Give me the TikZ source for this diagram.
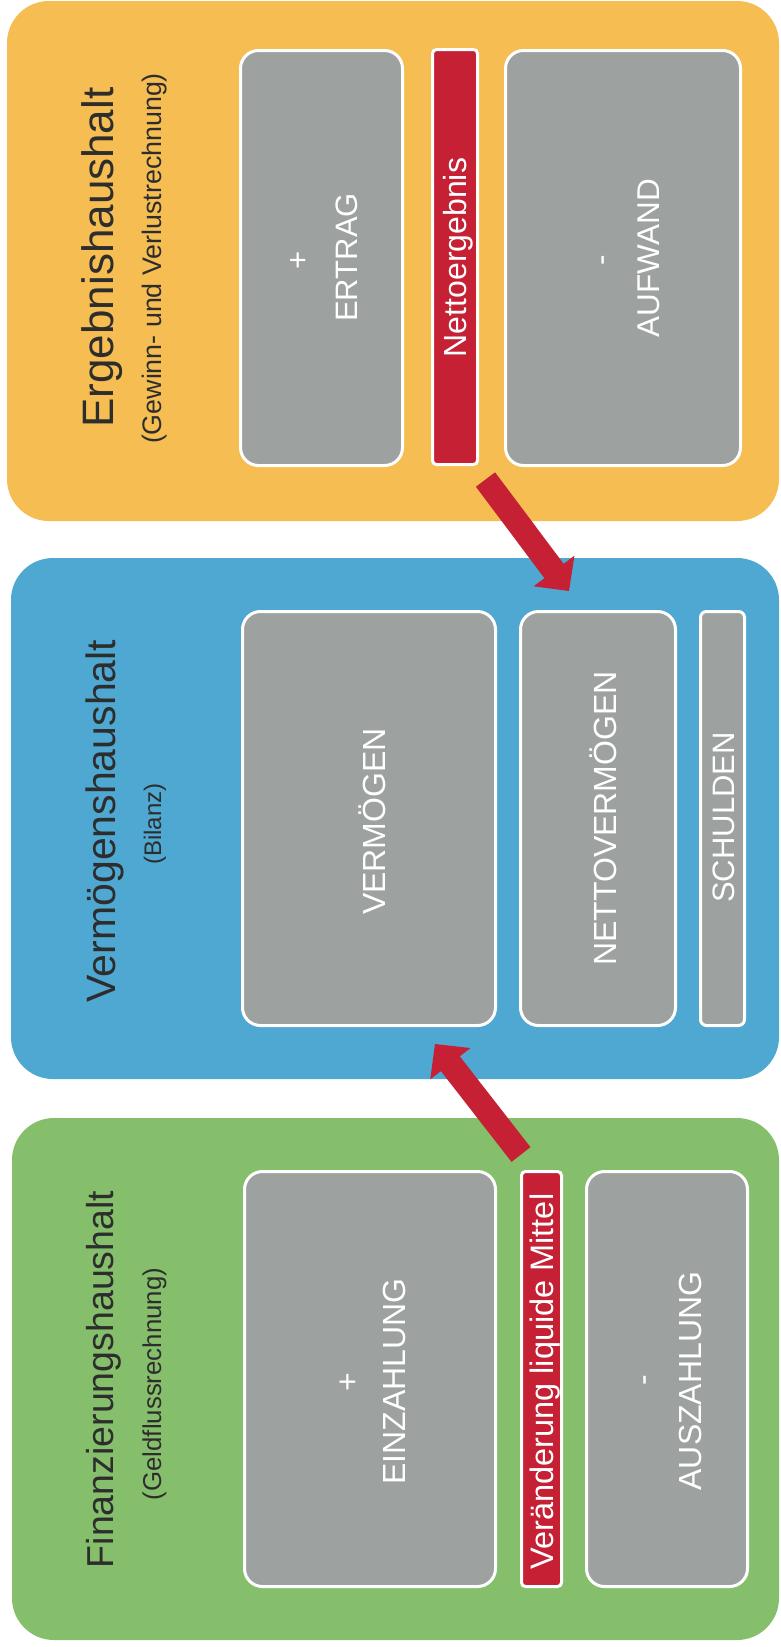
\documentclass[tikz,border=0pt]{standalone}
\usepackage{fontspec}
\setmainfont{Liberation Sans}
\usetikzlibrary{calc}
\definecolor{panelorange}{RGB}{246,189,82}
\definecolor{panelblue}{RGB}{78,168,210}
\definecolor{panelgreen}{RGB}{134,191,108}
\definecolor{boxgray}{RGB}{157,161,159}
\definecolor{barred}{RGB}{197,32,52}
\definecolor{titlegray}{RGB}{45,45,45}
\newcommand\fsz[1]{\fontsize{#1pt}{#1pt}\selectfont}
\newcommand\redblockarrow[3]{%
  \coordinate (#3hb) at ($(#2)!25pt!(#1)$);
  \fill[barred] ($(#1)!12pt!90:(#2)$) -- ($(#3hb)!12pt!90:(#2)$) -- ($(#3hb)!25.5pt!90:(#2)$) -- (#2)
     -- ($(#3hb)!25.5pt!-90:(#2)$) -- ($(#3hb)!12pt!-90:(#2)$) -- ($(#1)!12pt!-90:(#2)$) -- cycle;}
\begin{document}
\begin{tikzpicture}[x=1pt,y=-1pt,
  panel/.style={rectangle, rounded corners=42pt, inner sep=0pt, draw=none},
  graybox/.style={rectangle, rounded corners=18pt, fill=boxgray, draw=white, line width=3pt, inner sep=0pt},
  redbar/.style={rectangle, rounded corners=4pt, fill=barred, draw=white, line width=3pt, inner sep=0pt},
  slimbox/.style={rectangle, rounded corners=6pt, fill=boxgray, draw=white, line width=3pt, inner sep=0pt},
  boxtext/.style={rotate=90, anchor=base, inner sep=0pt, text=white},
  titletext/.style={rotate=90, anchor=base, inner sep=0pt, text=titlegray}]
\useasboundingbox (0,0) rectangle (780,1647);
\fill[white] (0,0) rectangle (780,1647);
% panels
\node[panel, fill=panelorange, minimum width=772pt, minimum height=520pt] (ergebnis) at (393,261) {};
\node[panel, fill=panelblue, minimum width=768pt, minimum height=521pt] (vermoegen) at (395,818.5) {};
\node[panel, fill=panelgreen, minimum width=767pt, minimum height=522pt] (finanz) at (395.5,1379) {};
% Ergebnishaushalt boxes
\node[graybox, minimum width=162pt, minimum height=415pt] (ertrag) at (321.5,258) {};
\node[redbar, minimum width=45pt, minimum height=415pt] (netto) at (455,257) {};
\node[graybox, minimum width=235pt, minimum height=415pt] (aufwand) at (623,258) {};
% Vermoegenshaushalt boxes
\node[graybox, minimum width=253pt, minimum height=414pt] (verm) at (369,818.5) {};
\node[graybox, minimum width=155pt, minimum height=414pt] (nettoverm) at (598,818.5) {};
\node[slimbox, minimum width=44pt, minimum height=414pt] (schulden) at (722.5,818.5) {};
% Finanzierungshaushalt boxes
\node[graybox, minimum width=251pt, minimum height=415pt] (einz) at (370,1379) {};
\node[redbar, minimum width=40pt, minimum height=415pt] (liquide) at (541.5,1379) {};
\node[graybox, minimum width=161pt, minimum height=415pt] (ausz) at (667,1379) {};
% titles
\node[titletext, font=\fsz{44}] (t1) at (113,257.5) {Ergebnishaushalt};
\node[titletext, font=\fsz{26.8}] (s1) at (161,258.5) {(Gewinn- und Verlustrechnung)};
\node[titletext, font=\fsz{41}] (t2) at (115,821) {Vermögenshaushalt};
\node[titletext, font=\fsz{24}] (s2) at (161,824) {(Bilanz)};
\node[titletext, font=\fsz{37.5}] (t3) at (113,1379.5) {Finanzierungshaushalt};
\node[titletext, font=\fsz{25.8}] (s3) at (161,1384) {(Geldflussrechnung)};
% box texts
\node[boxtext, font=\fsz{31}] (plus1) at (308,260) {+};
\node[boxtext, font=\fsz{31}] (ertragtxt) at (357,257.5) {ERTRAG};
\node[boxtext, font=\fsz{32}] (nettotxt) at (466,257.5) {Nettoergebnis};
\node[boxtext, font=\fsz{31.5}] (minus1) at (611,260) {-};
\node[boxtext, font=\fsz{31.5}] (aufwandtxt) at (659,258) {AUFWAND};
\node[boxtext, font=\fsz{32}] (vermtxt) at (385,821.5) {VERMÖGEN};
\node[boxtext, font=\fsz{32}] (nettovermtxt) at (616,818.5) {NETTOVERMÖGEN};
\node[boxtext, font=\fsz{31}] (schuldentxt) at (734,817.5) {SCHULDEN};
\node[boxtext, font=\fsz{32}] (plus2) at (358,1382) {+};
\node[boxtext, font=\fsz{32}] (einztxt) at (405,1381.5) {EINZAHLUNG};
\node[boxtext, font=\fsz{32}] (minus2) at (653,1380) {-};
\node[boxtext, font=\fsz{32}] (ausztxt) at (701,1381) {AUSZAHLUNG};
\node[boxtext, font=\fsz{32.5}] (liquidetxt) at (553,1381.5) {Veränderung liquide Mittel};
% arrows
\coordinate (a1s) at (485.5,479.5);
\coordinate (a1e) at (569,591);
\redblockarrow{a1s}{a1e}{a1}
\coordinate (a2s) at (521,1154.5);
\coordinate (a2e) at (435,1044);
\redblockarrow{a2s}{a2e}{a2}
\end{tikzpicture}
\end{document}
